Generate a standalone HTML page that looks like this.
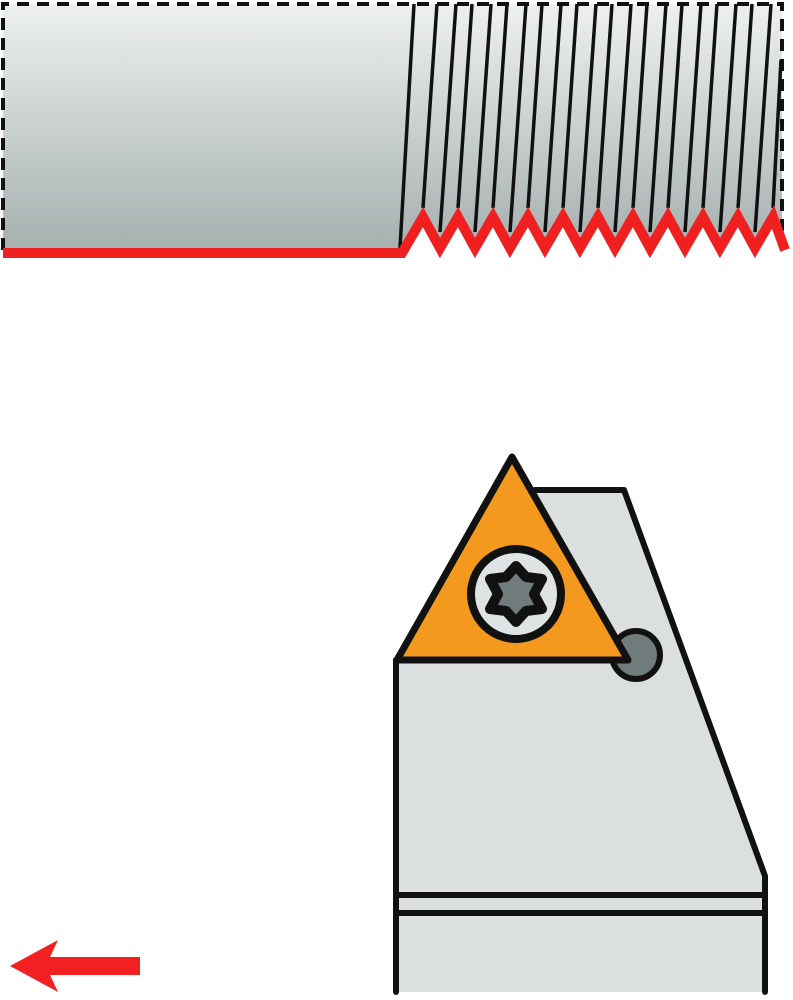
<!DOCTYPE html>
<html><head><meta charset="utf-8"><style>html,body{margin:0;padding:0;background:#fff}svg{display:block}</style></head>
<body>
<svg width="793" height="1000" viewBox="0 0 793 1000" xmlns="http://www.w3.org/2000/svg">
<defs>
<linearGradient id="g" x1="0" y1="0" x2="0" y2="1">
<stop offset="0" stop-color="#eef0f0"/><stop offset="1" stop-color="#a4afae"/>
</linearGradient>
</defs>
<polygon points="3,4 782,4 782,245 773,217 755,248 738,217 720,248 703,217 685,248 668,217 650,248 633,217 615,248 598,217 580,248 563,217 545,248 528,217 510,248 493,217 475,248 458,217 440,248 423,217 402,253 3,253" fill="url(#g)"/>
<path d="M3,250 V4 H782 V250" fill="none" stroke="#111" stroke-width="4" stroke-dasharray="12,8"/>
<g stroke="#111" stroke-width="3.5" fill="none">
<line x1="414" y1="4" x2="400" y2="248"/>
<line x1="437" y1="4" x2="423" y2="208"/>
<line x1="456" y1="4" x2="440" y2="232"/>
<line x1="472" y1="4" x2="458" y2="208"/>
<line x1="491" y1="4" x2="475" y2="232"/>
<line x1="507" y1="4" x2="493" y2="208"/>
<line x1="526" y1="4" x2="510" y2="232"/>
<line x1="542" y1="4" x2="528" y2="208"/>
<line x1="561" y1="4" x2="545" y2="232"/>
<line x1="577" y1="4" x2="563" y2="208"/>
<line x1="596" y1="4" x2="580" y2="232"/>
<line x1="612" y1="4" x2="598" y2="208"/>
<line x1="631" y1="4" x2="615" y2="232"/>
<line x1="647" y1="4" x2="633" y2="208"/>
<line x1="666" y1="4" x2="650" y2="232"/>
<line x1="682" y1="4" x2="668" y2="208"/>
<line x1="701" y1="4" x2="685" y2="232"/>
<line x1="717" y1="4" x2="703" y2="208"/>
<line x1="736" y1="4" x2="720" y2="232"/>
<line x1="752" y1="4" x2="738" y2="208"/>
<line x1="771" y1="4" x2="755" y2="232"/>
<line x1="781" y1="60" x2="773" y2="208"/>
</g>
<polyline points="3,253 402,253 423,217 440,248 458,217 475,248 493,217 510,248 528,217 545,248 563,217 580,248 598,217 615,248 633,217 650,248 668,217 685,248 703,217 720,248 738,217 755,248 773,217 785,250" fill="none" stroke="#f02020" stroke-width="10" stroke-linejoin="miter"/>
<!-- holder -->
<polygon points="396,660 396,992 765,992 765,876 624,490 535,490" fill="#dcdfdf"/>
<path d="M396,660 V992 M765,992 V876 L624,490 H535" fill="none" stroke="#111" stroke-width="6" stroke-linecap="round" stroke-linejoin="round"/>
<line x1="396" y1="895" x2="765" y2="895" stroke="#111" stroke-width="6"/>
<line x1="396" y1="913" x2="765" y2="913" stroke="#111" stroke-width="6"/>
<circle cx="636" cy="655" r="24" fill="#707b7b" stroke="#111" stroke-width="6"/>
<!-- insert -->
<polygon points="512,457 397,660 628,660" fill="#f39a1e" stroke="#111" stroke-width="7" stroke-linejoin="round"/>
<circle cx="516" cy="594" r="45" fill="#dfe3e3" stroke="#111" stroke-width="8"/>
<polygon points="516,566 526,577 542,579 534,594 542,609 526,611 516,622 506,611 490,609 498,594 490,579 506,577" fill="#707b7b" stroke="#111" stroke-width="10" stroke-linejoin="round"/>
<!-- arrow -->
<polygon points="10,966 58,940 50,957 140,957 140,975 50,975 58,992" fill="#f22020"/>
</svg>
</body></html>
